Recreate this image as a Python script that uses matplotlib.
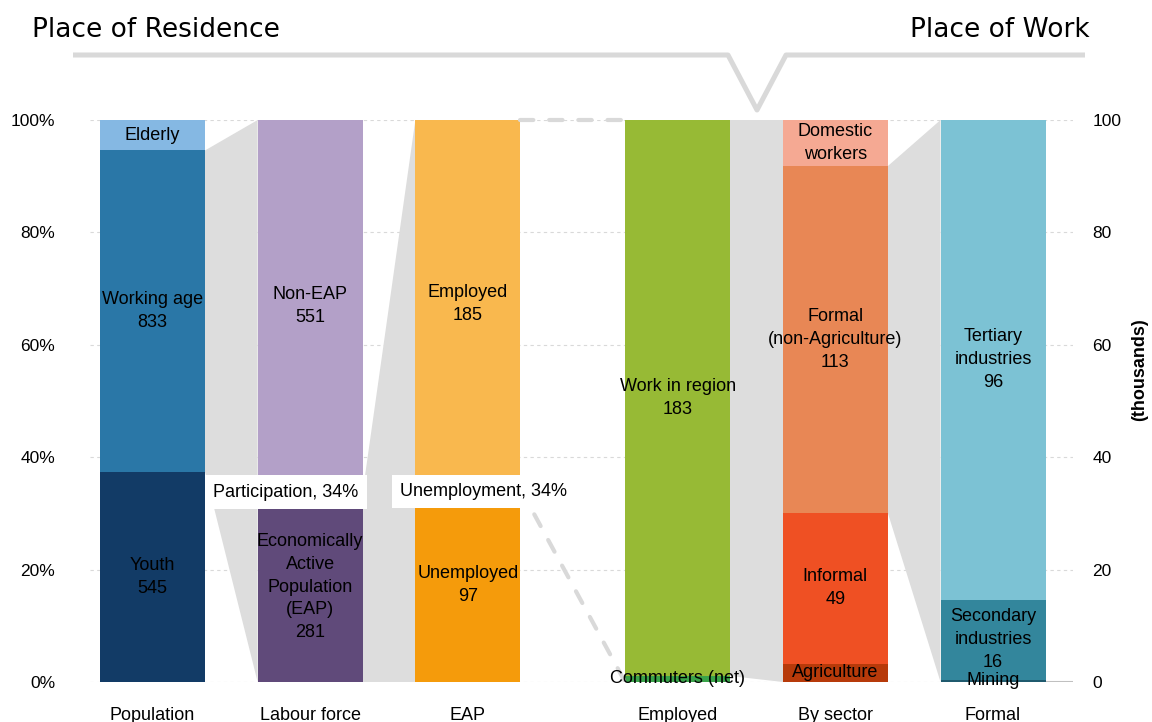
import matplotlib
matplotlib.use("Agg")
import matplotlib.pyplot as plt
from matplotlib.lines import Line2D
import numpy as np

# ---- data (thousands) ----
categories = ["Population", "Labour force", "EAP", "Employed", "By sector", "Formal"]

pop_names = ["Youth", "Working age", "Elderly"]
pop_values = [545, 833, 79]
pop_show = [True, True, False]

labour_names = ["Economically\nActive\nPopulation\n(EAP)", "Non-EAP"]
labour_values = [281, 551]
labour_show = [True, True]

eap_names = ["Unemployed", "Employed"]
eap_values = [97, 185]
eap_show = [True, True]

employed_names = ["Commuters (net)", "Work in region"]
employed_values = [2, 183]
employed_show = [False, True]

sector_names = ["Agriculture", "Informal", "Formal\n(non-Agriculture)", "Domestic\nworkers"]
sector_values = [6, 49, 113, 15]
sector_show = [False, True, True, False]

formal_names = ["Mining", "Secondary\nindustries", "Tertiary\nindustries"]
formal_values = [0.5, 16, 96]
formal_show = [False, True, True]

# ---- styling ----
pop_colors = ["#123b66", "#2a77a7", "#85b8e3"]
labour_colors = ["#604a7a", "#b3a0c8"]
eap_colors = ["#f59b0b", "#f9b84e"]
employed_colors = ["#3aa34a", "#97ba35"]
sector_colors = ["#b73a0a", "#ef5023", "#e88755", "#f5a993"]
formal_colors = ["#1f5a6e", "#33869c", "#7cc2d4"]

GREY = "#dddddd"
LINE_GREY = "#d9d9d9"
FONT = ["Liberation Sans", "DejaVu Sans"]
FS = 13

bars = [
    (pop_names, pop_values, pop_show, pop_colors),
    (labour_names, labour_values, labour_show, labour_colors),
    (eap_names, eap_values, eap_show, eap_colors),
    (employed_names, employed_values, employed_show, employed_colors),
    (sector_names, sector_values, sector_show, sector_colors),
    (formal_names, formal_values, formal_show, formal_colors),
]
xpos = [0, 1, 2, 3.33, 4.33, 5.33]
width = 0.666

W, H = 1152, 722
fig = plt.figure(figsize=(W / 100, H / 100), dpi=100)
ax = fig.add_axes([90 / W, 1 - 682 / H, (1073 - 90) / W, (682 - 120) / H])
ax.set_xlim(-0.396, 5.837)
ax.set_ylim(0, 100)

# cumulative shares (%) of each stacked bar
shares = []
for names, vals, show, cols in bars:
    v = np.array(vals, dtype=float)
    edges = np.concatenate([[0], np.cumsum(v)]) / v.sum() * 100
    shares.append(edges)

for i, (names, vals, show, cols) in enumerate(bars):
    edges = shares[i]
    for j in range(len(vals)):
        ax.bar(xpos[i], edges[j + 1] - edges[j], bottom=edges[j], width=width,
               color=cols[j], zorder=2, linewidth=0)
        label = names[j] + (f"\n{vals[j]}" if show[j] else "")
        ax.text(xpos[i], (edges[j] + edges[j + 1]) / 2, label, ha="center",
                va="center", fontsize=FS, family=FONT, zorder=5,
                linespacing=1.45)


def connector(i, seg, filled=True):
    x0 = xpos[i] + width / 2
    x1 = xpos[i + 1] - width / 2
    lo, hi = shares[i][seg], shares[i][seg + 1]
    if filled:
        ax.fill([x0, x0, x1, x1], [lo, hi, 100, 0], color=GREY, lw=0, zorder=1)
    else:
        for ya, yb in [(hi, 100), (lo, 0)]:
            ax.plot([x0, x1], [ya, yb], color=LINE_GREY, lw=3,
                    dashes=(3.2, 3.8), dash_capstyle="round", zorder=3,
                    clip_on=False)


connector(0, 1)             # working age -> labour force
connector(1, 0)             # EAP -> EAP split
connector(2, 1, filled=False)  # employed residents -> place of work
connector(3, 1)             # work in region -> by sector
connector(4, 2)             # formal -> industries

# rate call-outs
participation = labour_values[0] / sum(labour_values) * 100
unemployment = eap_values[0] / sum(eap_values) * 100
box = dict(facecolor="white", edgecolor="none", pad=6)
ax.text(0.845, shares[1][1], f"Participation, {participation:.0f}%", ha="center",
        va="center", fontsize=FS, family=FONT, bbox=box, zorder=6)
ax.text(2.10, shares[2][1] - 0.5, f"Unemployment, {unemployment:.0f}%", ha="center",
        va="center", fontsize=FS, family=FONT, bbox=box, zorder=6)

# short base line next to the last bar
ax.plot([xpos[-1] + width / 2, ax.get_xlim()[1]], [0, 0], color="#c0c0c0",
        lw=1.5, zorder=1, solid_capstyle="butt")

# axes cosmetics
ax.set_yticks(np.arange(0, 101, 20))
ax.set_yticklabels([f"{t}%" for t in range(0, 101, 20)], family=FONT, fontsize=12.5)
ax.yaxis.grid(True, color=LINE_GREY, lw=0.8, ls=(0, (3, 3)), zorder=0)
ax.set_axisbelow(True)
ax.set_xticks(xpos)
ax.set_xticklabels(categories, family=FONT, fontsize=13)
ax.tick_params(axis="both", length=0)
ax.tick_params(axis="y", pad=25)
ax.tick_params(axis="x", pad=18)
for s in ax.spines.values():
    s.set_visible(False)

ax2 = ax.twinx()
ax2.set_ylim(0, 100)
ax2.set_yticks(np.arange(0, 101, 20))
ax2.set_yticklabels([str(t) for t in range(0, 101, 20)], family=FONT, fontsize=12.5)
ax2.tick_params(axis="y", length=0, pad=14)
for s in ax2.spines.values():
    s.set_visible(False)
fig.text(1140 / W, 1 - 370 / H, "(thousands)", family=FONT, fontsize=13,
         fontweight="bold", rotation=90, ha="center", va="center")

# headings and bracket
fig.text(32 / W, 1 - 30 / H, "Place of Residence", fontsize=19, family="DejaVu Sans",
         ha="left", va="center")
fig.text(1090 / W, 1 - 30 / H, "Place of Work", fontsize=19, family="DejaVu Sans",
         ha="right", va="center")
bx = np.array([73, 728, 757, 786, 1085]) / W
by = 1 - np.array([55, 55, 110, 55, 55]) / H
fig.add_artist(Line2D(bx, by, color=LINE_GREY, lw=3.6, solid_joinstyle="round",
                      solid_capstyle="butt"))

fig.savefig("out.png", dpi=100)
